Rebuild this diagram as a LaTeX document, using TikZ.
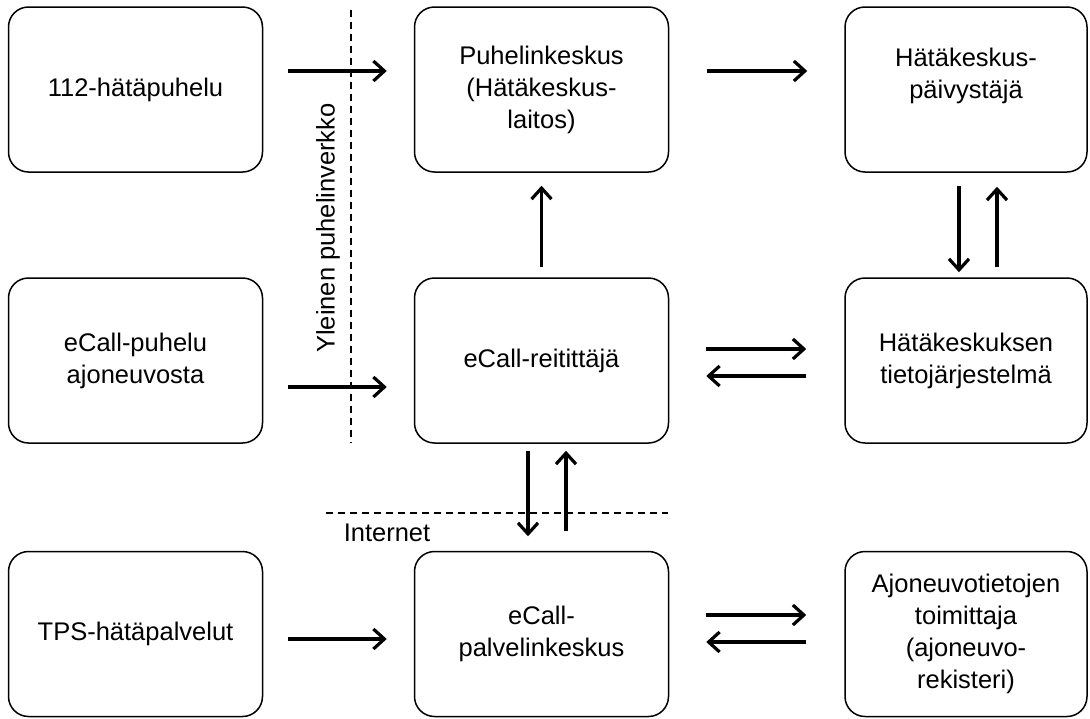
\documentclass[tikz,border=0pt]{standalone}
\usepackage{fontspec}
\setmainfont{Liberation Sans}
\usepackage{tikz}
\usetikzlibrary{shapes,arrows.meta,positioning}

\begin{document}
\begin{tikzpicture}[x=1pt, y=-1pt,
    txt/.style={font=\fontsize{25.5}{32}\selectfont},
    box/.style={txt, draw, line width=1.5pt, rounded corners=20pt, align=center,
        minimum width=254pt, minimum height=165pt, inner sep=0pt},
    arr/.style={line width=3.2pt, -{Straight Barb[length=11pt, width=20pt]}},
    sep/.style={line width=1.1pt, dash pattern=on 7pt off 5pt}]
    \useasboundingbox (0,0) rectangle (1090,718);

    % Top row
    \node[box] (call) at (135.5,89.5) {112-hätäpuhelu};
    \node[box] (exch) at (541.5,89.5) {Puhelinkeskus\\(Hätäkeskus-\\laitos)};
    \node[box, minimum width=242pt] (duty) at (966,89.5) {Hätäkeskus-\\päivystäjä\\~};

    % Middle row
    \node[box] (vehicle) at (135.5,360.5) {eCall-puhelu\\ajoneuvosta};
    \node[box] (router) at (541.5,360.5) {eCall-reitittäjä};
    \node[box, minimum width=242pt] (erc) at (966,360.5) {Hätäkeskuksen\\tietojärjestelmä};

    % Bottom row
    \node[box] (tps) at (135.5,634) {TPS-hätäpalvelut};
    \node[box] (service) at (541.5,634) {eCall-\\palvelinkeskus};
    \node[box, minimum width=242pt] (registry) at (966,634) {Ajoneuvotietojen\\toimittaja\\(ajoneuvo-\\rekisteri)};

    % Network borders
    \draw[sep] (351,10) -- (351,443);
    \draw[sep] (326,513) -- (668,513);
    \node[txt, rotate=90] (pstn) at (328,228) {Yleinen puhelinverkko};
    \node[txt] (inet) at (387,533) {Internet};

    % Horizontal arrows
    \draw[arr, shorten <=25pt, shorten >=27pt] ([yshift=18.5pt]call.east) -- ([yshift=18.5pt]exch.west);
    \draw[arr, shorten <=38pt, shorten >=37pt] ([yshift=18.5pt]exch.east) -- ([yshift=18.5pt]duty.west);
    \draw[arr, shorten <=25pt, shorten >=27pt] ([yshift=-26.5pt]vehicle.east) -- ([yshift=-26.5pt]router.west);
    \draw[arr, shorten <=37pt, shorten >=38pt] ([yshift=11.5pt]router.east) -- ([yshift=11.5pt]erc.west);
    \draw[arr, shorten <=38pt, shorten >=37pt] ([yshift=-15.5pt]erc.west) -- ([yshift=-15.5pt]router.east);
    \draw[arr, shorten <=25pt, shorten >=27pt] ([yshift=-5pt]tps.east) -- ([yshift=-5pt]service.west);
    \draw[arr, shorten <=37pt, shorten >=38pt] ([yshift=19pt]service.east) -- ([yshift=19pt]registry.west);
    \draw[arr, shorten <=38pt, shorten >=37pt] ([yshift=-8pt]registry.west) -- ([yshift=-8pt]service.east);

    % Vertical arrows
    \draw[arr, shorten <=10pt, shorten >=13pt] (router.north) -- (exch.south);
    \draw[arr, shorten <=13pt, shorten >=5pt] ([xshift=-7pt]duty.south) -- ([xshift=-7pt]erc.north);
    \draw[arr, shorten <=10pt, shorten >=14pt] ([xshift=31pt]erc.north) -- ([xshift=31pt]duty.south);
    \draw[arr, shorten <=7pt, shorten >=14.5pt] ([xshift=-13.5pt]router.south) -- ([xshift=-13.5pt]service.north);
    \draw[arr, shorten <=19.5pt, shorten >=7pt] ([xshift=24.5pt]service.north) -- ([xshift=24.5pt]router.south);
\end{tikzpicture}
\end{document}
